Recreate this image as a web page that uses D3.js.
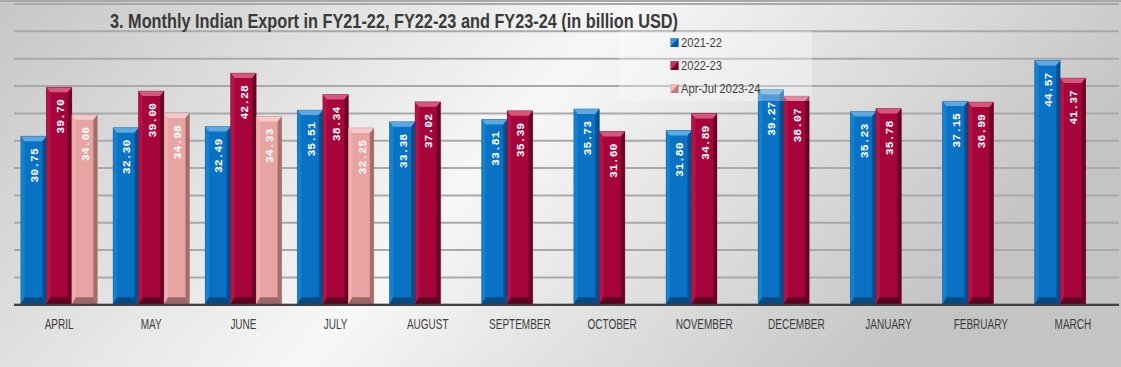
<!DOCTYPE html>
<html>
<head>
<meta charset="utf-8">
<script src="https://cdn.jsdelivr.net/npm/d3@7"></script>
<style>
  html, body { margin: 0; padding: 0; background: #fff; }
  svg { display: block; }
</style>
</head>
<body>
<svg id="chart" width="1121" height="367"></svg>
<script>
const months = ["APRIL","MAY","JUNE","JULY","AUGUST","SEPTEMBER","OCTOBER","NOVEMBER","DECEMBER","JANUARY","FEBRUARY","MARCH"];
const seriesNames = ["2021-22","2022-23","Apr-Jul 2023-24"];
const fy2122 = [30.75,32.30,32.49,35.51,33.38,33.81,35.73,31.80,39.27,35.23,37.15,44.57];
const fy2223 = [39.70,39.00,42.28,38.34,37.02,35.39,31.60,34.89,38.07,35.78,36.99,41.37];
const fy2324 = [34.66,34.98,34.33,32.25,null,null,null,null,null,null,null,null];
const yTicks = [0,5,10,15,20,25,30,35,40,45,50,55];
const titleText = "3. Monthly Indian Export in FY21-22, FY22-23 and FY23-24 (in billion USD)";

const W = 1121, H = 367;
const svg = d3.select("#chart");

const palettes = [
  {base:"#0a72c4", top:"#5ea8e2", left:"#1580cc", right:"#03518f", bottom:"#064a80"},
  {base:"#a8043c", top:"#d4587a", left:"#b21446", right:"#6a0226", bottom:"#5e0222"},
  {base:"#e8a4a2", top:"#f6cac8", left:"#ecb0ae", right:"#a36d6b", bottom:"#9a6866"}
];

// background
const defs = svg.append("defs");
const bg = defs.append("linearGradient").attr("id","bg").attr("x1","0").attr("y1","0").attr("x2","1").attr("y2","0.3");
bg.append("stop").attr("offset","0%").attr("stop-color","#c6c6c6");
bg.append("stop").attr("offset","52%").attr("stop-color","#f7f7f7");
bg.append("stop").attr("offset","100%").attr("stop-color","#c4c4c4");
svg.append("rect").attr("width",W).attr("height",H).attr("fill","url(#bg)");
svg.append("line").attr("x1",0).attr("x2",W).attr("y1",1).attr("y2",1).attr("stroke","#a8a8a8").attr("stroke-width",2);

const x0 = d3.scaleBand().domain(months).range([13,1119]).paddingInner(0.17).paddingOuter(0.085);
const x1 = d3.scaleBand().domain(seriesNames).range([0,x0.bandwidth()]);
const y = d3.scaleLinear().domain([0,55]).range([304.3,3.5]);

// gridlines
const yAxis = d3.axisLeft(y).tickValues(yTicks).tickSize(-(1119-14)).tickFormat("");
const gy = svg.append("g").attr("transform","translate(14,0)").call(yAxis);
gy.select(".domain").remove();
gy.selectAll(".tick line").attr("stroke","#a9a9a9").attr("stroke-width",2);

// bars
const data = [];
months.forEach((m,i)=>{
  [fy2122[i],fy2223[i],fy2324[i]].forEach((v,j)=>{
    if (v !== null) data.push({month:m, series:seriesNames[j], si:j, value:v});
  });
});

const bars = svg.append("g");
data.forEach(d=>{
  const x = x0(d.month) + x1(d.series);
  const w = x1.bandwidth();
  const yt = y(d.value), yb = y(0);
  const h = yb - yt;
  const p = palettes[d.si];
  const b = 4, bb = 7;
  const g = bars.append("g");
  g.append("rect").attr("x",x).attr("y",yt).attr("width",w).attr("height",h).attr("fill",p.base);
  g.append("polygon").attr("points",[[x,yt],[x+b,yt+b],[x+b,yb-bb],[x,yb]].join(" ")).attr("fill",p.left);
  g.append("polygon").attr("points",[[x+w,yt],[x+w-b,yt+b],[x+w-b,yb-bb],[x+w,yb]].join(" ")).attr("fill",p.right);
  g.append("polygon").attr("points",[[x,yb],[x+b,yb-bb],[x+w-b,yb-bb],[x+w,yb]].join(" ")).attr("fill",p.bottom);
  g.append("polygon").attr("points",[[x,yt],[x+w,yt],[x+w-b,yt+b+1],[x+b,yt+b+1]].join(" ")).attr("fill",p.top);
  g.append("rect").attr("x",x).attr("y",yt).attr("width",w).attr("height",h).attr("fill","none").attr("stroke",p.right).attr("stroke-opacity",0.35).attr("stroke-width",0.8);
  const cx = x + w/2 + 1, ty = yt + 12;
  g.append("text")
    .attr("transform",`translate(${cx},${ty}) rotate(-90)`)
    .attr("text-anchor","end")
    .attr("dominant-baseline","central")
    .attr("font-family","'Liberation Mono','DejaVu Sans Mono',monospace")
    .attr("font-weight","bold")
    .attr("font-size",11.5)
    .attr("fill","#ffffff")
    .text(d.value.toFixed(2));
});

// baseline
svg.append("line").attr("x1",14).attr("x2",1119).attr("y1",y(0)+0.5).attr("y2",y(0)+0.5).attr("stroke","#404040").attr("stroke-width",2.2);

// x axis labels (condensed)
const xAxis = d3.axisBottom(x0).tickSize(0).tickPadding(0);
const gx = svg.append("g").attr("transform",`translate(0,${y(0)})`).call(xAxis);
gx.select(".domain").remove();
gx.selectAll(".tick text")
  .attr("y",20).attr("dy","0.35em")
  .attr("transform","scale(0.69,1)")
  .attr("font-family","'Liberation Sans',sans-serif")
  .attr("font-size",14.5)
  .attr("fill","#404040");

// title
svg.append("text").attr("x",110).attr("y",28)
  .attr("font-family","'Liberation Sans',sans-serif")
  .attr("font-weight","bold").attr("font-size",19.5)
  .attr("fill","#3a3a3a")
  .attr("textLength",568).attr("lengthAdjust","spacingAndGlyphs")
  .text(titleText);

// legend
svg.append("rect").attr("x",619).attr("y",31).attr("width",193).attr("height",70)
  .attr("fill","#ffffff").attr("fill-opacity",0.3);
const leg = svg.append("g");
const legY = [42.5, 65.5, 88.5];
seriesNames.forEach((s,i)=>{
  const p = palettes[i];
  const ly = legY[i];
  leg.append("rect").attr("x",670.5).attr("y",ly-4.5).attr("width",8).attr("height",9).attr("fill",p.base);
  leg.append("polygon").attr("points",[[670.5,ly-4.5],[678.5,ly-4.5],[670.5,ly+4.5]].join(" ")).attr("fill",p.top).attr("fill-opacity",0.6);
  leg.append("polygon").attr("points",[[678.5,ly-4.5],[678.5,ly+4.5],[670.5,ly+4.5]].join(" ")).attr("fill",p.right).attr("fill-opacity",0.7);
  leg.append("text")
    .attr("transform",`translate(681,${ly}) scale(0.86,1)`)
    .attr("dy","0.35em")
    .attr("font-family","'Liberation Sans',sans-serif")
    .attr("font-size",13).attr("fill","#404040").text(s);
});
</script>
</body>
</html>
